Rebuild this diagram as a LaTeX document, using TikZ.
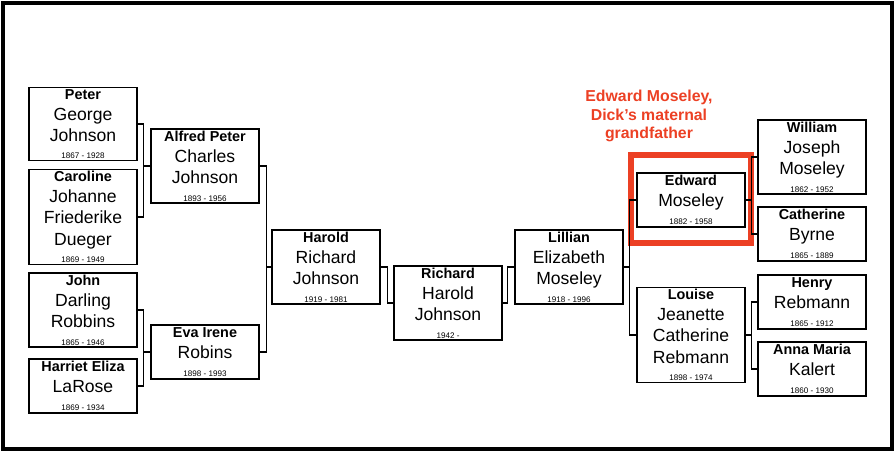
\documentclass[tikz,border=0pt]{standalone}
\usepackage{fontspec}
\setmainfont{Liberation Sans}
\usepackage{xcolor}
\usetikzlibrary{positioning}
\definecolor{callred}{RGB}{236,64,36}

\newcommand{\who}[2]{\fontsize{8.2}{9.6}\selectfont\bfseries #1\\[-2pt]\fontsize{4.6}{5}\selectfont\mdseries #2}

\begin{document}
\begin{tikzpicture}[x=0.02cm, y=-0.02cm]

    % Define style for boxes
    \tikzstyle{person} = [rectangle, draw=black, line width=0.8pt, minimum width=2.16cm, align=center, inner sep=1pt]
    \tikzstyle{link} = [draw=black, line width=0.6pt]

    \useasboundingbox (0,0) rectangle (895,452);
    \draw[line width=2.6pt] (3,3) rectangle (892,449);

    % Nodes
    \node (peter)    [person, minimum height=1.42cm] at (83,124) {\who{Peter\\George\\Johnson}{1867 - 1928}};
    \node (caroline) [person, minimum height=1.76cm] at (83,217) {\who{Caroline\\Johanne\\Friederike\\Dueger}{1869 - 1949}};
    \node (john)     [person, minimum height=1.44cm] at (83,310) {\who{John\\Darling\\Robbins}{1865 - 1946}};
    \node (harriet)  [person, minimum height=1.08cm] at (83,386) {\who{Harriet Eliza\\LaRose}{1869 - 1934}};

    \node (alfred)   [person, minimum height=1.42cm] at (205,166) {\who{Alfred Peter\\Charles\\Johnson}{1893 - 1956}};
    \node (eva)      [person, minimum height=1.08cm] at (205,352) {\who{Eva Irene\\Robins}{1898 - 1993}};
    \node (harold)   [person, minimum height=1.42cm] at (326,267) {\who{Harold\\Richard\\Johnson}{1919 - 1981}};
    \node (richard)  [person, minimum height=1.42cm] at (448,303) {\who{Richard\\Harold\\Johnson}{1942 -}};
    \node (lillian)  [person, minimum height=1.42cm] at (569,267) {\who{Lillian\\Elizabeth\\Moseley}{1918 - 1996}};

    \node (edward)   [person, minimum height=1.08cm] at (691,200) {\who{Edward\\Moseley}{1882 - 1958}};
    \node (louise)   [person, minimum height=1.76cm] at (691,335) {\who{Louise\\Jeanette\\Catherine\\Rebmann}{1898 - 1974}};
    \node (william)  [person, minimum height=1.42cm] at (812,157) {\who{William\\Joseph\\Moseley}{1862 - 1952}};
    \node (catherine)[person, minimum height=1.08cm] at (812,234) {\who{Catherine\\Byrne}{1865 - 1889}};
    \node (henry)    [person, minimum height=1.08cm] at (812,302) {\who{Henry\\Rebmann}{1865 - 1912}};
    \node (anna)     [person, minimum height=1.08cm] at (812,369) {\who{Anna Maria\\Kalert}{1860 - 1930}};

    % Callout
    \node (callout) [draw=callred, line width=3pt, minimum width=2.4cm, minimum height=1.76cm] at (691,199) {};
    \node (note) [text=callred, align=center, font=\fontsize{9}{10.6}\selectfont\bfseries] at (649,116) {Edward Moseley,\\Dick’s maternal\\grandfather};

    % Lines
    \draw[link] (peter.east) -- ++(6,0) |- (alfred.west);
    \draw[link] (caroline.east) -- ++(6,0) |- (alfred.west);
    \draw[link] (john.east) -- ++(6,0) |- (eva.west);
    \draw[link] (harriet.east) -- ++(6,0) |- (eva.west);
    \draw[link] (alfred.east) -- ++(7,0) |- (harold.west);
    \draw[link] (eva.east) -- ++(7,0) |- (harold.west);
    \draw[link] (harold.east) -- ++(7,0) |- (richard.west);
    \draw[link] (lillian.west) -- ++(-7,0) |- (richard.east);
    \draw[link] (edward.west) -- ++(-7,0) |- (lillian.east);
    \draw[link] (louise.west) -- ++(-7,0) |- (lillian.east);
    \draw[link] (william.west) -- ++(-6,0) |- (edward.east);
    \draw[link] (catherine.west) -- ++(-6,0) |- (edward.east);
    \draw[link] (henry.west) -- ++(-6,0) |- (louise.east);
    \draw[link] (anna.west) -- ++(-6,0) |- (louise.east);

\end{tikzpicture}
\end{document}
